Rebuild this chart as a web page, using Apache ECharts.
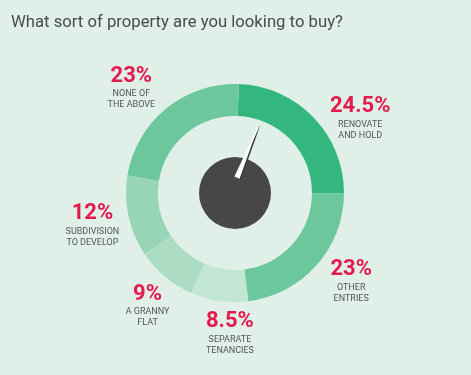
<!DOCTYPE html>
<html>
<head>
<meta charset="utf-8">
<script src="https://cdn.jsdelivr.net/npm/echarts@6/dist/echarts.min.js"></script>
<style>
html,body{margin:0;padding:0;background:#e0f0e8;}
#c{width:471px;height:375px;}
</style>
</head>
<body>
<div id="c"></div>
<script>
const categories = ['RENOVATE\nAND HOLD', 'OTHER\nENTRIES', 'SEPARATE\nTENANCIES', 'A GRANNY\nFLAT', 'SUBDIVISION\nTO DEVELOP', 'NONE OF\nTHE ABOVE'];
const values = [24.5, 23, 8.5, 9, 12, 23];
const percentLabels = ['24.5%', '23%', '8.5%', '9%', '12%', '23%'];
const sliceColors = ['#33b77f', '#6dc79c', '#c2e6d4', '#acdcc4', '#97d5b6', '#6dc79c'];
const labelOffsets = [[20, 26], [7, -9], [16, -5], [6, 0], [0, 0], [-11, 7]];
const needleValue = [6.2];

const chart = echarts.init(document.getElementById('c'), null, {renderer: 'canvas'});
const FONT = 'Roboto, "Noto Sans", sans-serif';
const center = [235, 193];

const ringData = values.map((v, i) => ({
  value: v, name: categories[i],
  itemStyle: {color: sliceColors[i]}
}));
const labelData = values.map((v, i) => ({
  value: v, name: categories[i],
  label: {
    offset: labelOffsets[i],
    formatter: '{a|' + percentLabels[i] + '}\n' + categories[i].split('\n').map(s => '{b|' + s + '}').join('\n')
  }
}));

chart.setOption({
  backgroundColor: '#e0f0e8',
  animation: false,
  title: {
    text: 'What sort of property are you looking to buy?',
    left: 6, top: 9,
    textStyle: {fontFamily: FONT, fontSize: 16.7, fontWeight: 'normal', color: '#4a4a4a'}
  },
  series: [
    {
      type: 'pie', center: center, radius: [77, 109], startAngle: 88, clockwise: true,
      silent: true, label: {show: false}, labelLine: {show: false},
      itemStyle: {borderWidth: 0}, z: 1,
      data: ringData
    },
    {
      type: 'pie', center: center, radius: [140, 146], startAngle: 88, clockwise: true,
      silent: true, itemStyle: {color: 'transparent', borderWidth: 0},
      labelLine: {show: false}, z: 1,
      label: {
        show: true, position: 'inside',
        rich: {
          a: {fontFamily: FONT, fontSize: 22, fontWeight: 'bold', color: '#e31a4e', lineHeight: 25, align: 'center'},
          b: {fontFamily: FONT, fontSize: 9, color: '#555555', lineHeight: 11, align: 'center'}
        }
      },
      data: labelData
    },
    {
      type: 'pie', center: center, radius: [0, 36], silent: true, z: 1,
      label: {show: false}, labelLine: {show: false},
      itemStyle: {color: '#474747', borderWidth: 0},
      data: [{value: 1}]
    },
    {
      type: 'gauge', center: center, radius: 109, z: 10,
      startAngle: 90, endAngle: -270, min: 0, max: 100,
      silent: true,
      axisLine: {show: false}, splitLine: {show: false}, axisTick: {show: false},
      axisLabel: {show: false}, title: {show: false}, detail: {show: false},
      anchor: {show: false}, progress: {show: false},
      pointer: {show: true, icon: 'path://M0,100 L1,0 L2,100 Z', length: 58, width: 5.5,
        offsetCenter: [-4, -15],
        itemStyle: {color: '#ffffff', shadowColor: '#3a3a3a', shadowBlur: 0, shadowOffsetX: 1.5, shadowOffsetY: 0.5}},
      data: [{value: needleValue[0]}]
    }
  ]
});
</script>
</body>
</html>
